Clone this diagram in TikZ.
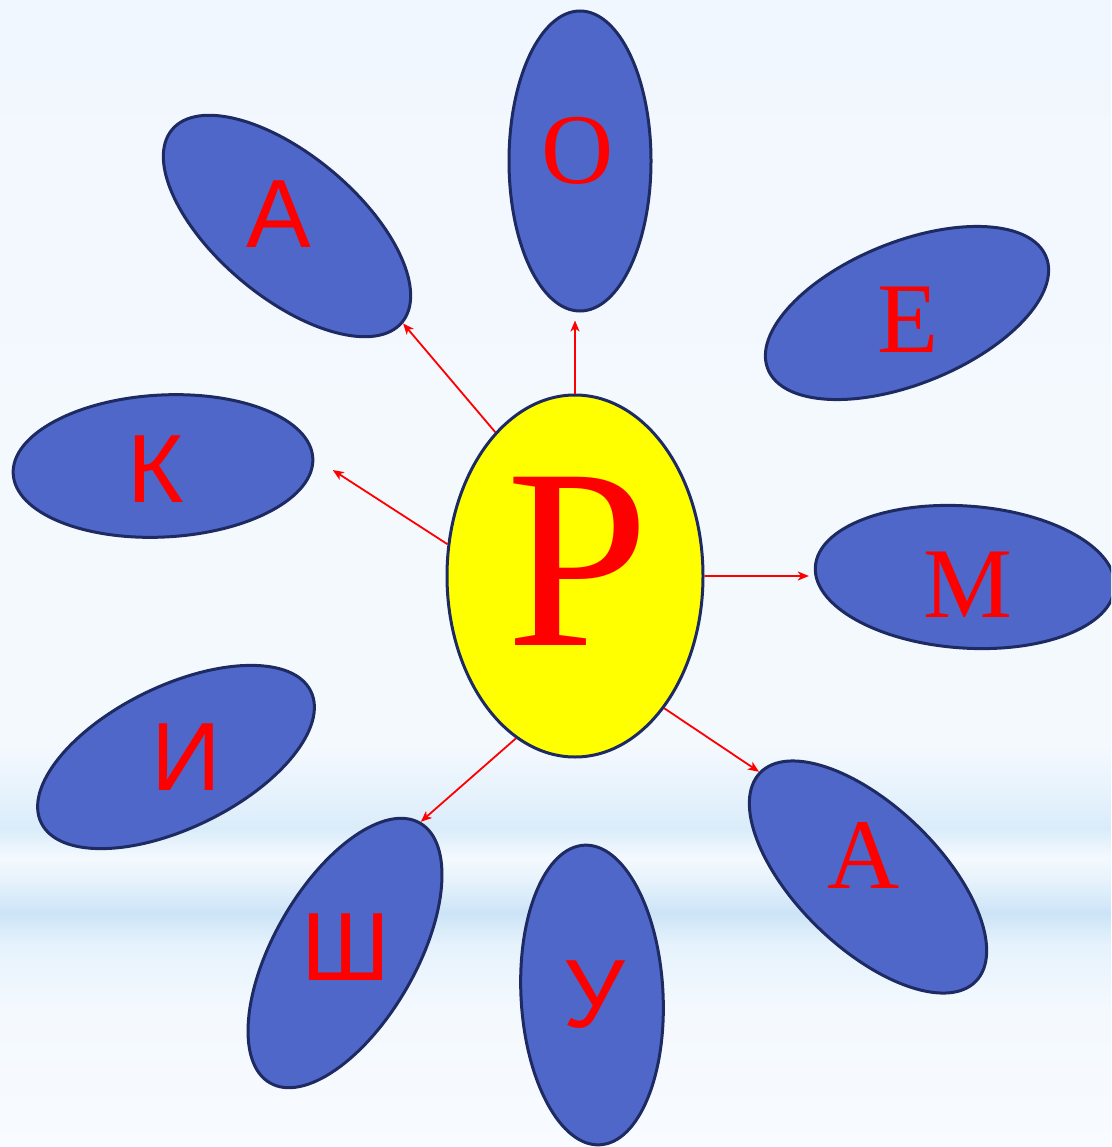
\documentclass[tikz,border=0pt]{standalone}
\usepackage{fontspec}
\setmainfont{Liberation Serif}
\newfontfamily\sansfont{Liberation Sans}
\usepackage{tikz}
\usetikzlibrary{shapes.geometric, arrows.meta, calc}
\definecolor{petal-blue}{RGB}{79,103,200}
\definecolor{petal-edge}{RGB}{30,42,98}
\definecolor{sun-yellow}{RGB}{255,255,0}
\definecolor{bg-low}{HTML}{F8FBFF}
\definecolor{bg-pale}{HTML}{F4F9FE}
\definecolor{bg-mid}{HTML}{E6F2FC}
\definecolor{bg-band}{HTML}{CCE4F7}
\definecolor{bg-band2}{HTML}{DAECFA}
\definecolor{bg-top}{HTML}{F1F7FE}
\pgfdeclareverticalshading{fundo}{100bp}{color(0bp)=(bg-low); color(25bp)=(bg-low);
  color(31bp)=(bg-pale); color(33.8bp)=(bg-mid); color(35.2bp)=(bg-band);
  color(36.6bp)=(bg-mid); color(37.6bp)=(bg-pale); color(38.9bp)=(bg-band2);
  color(40.4bp)=(bg-mid); color(42.5bp)=(bg-pale); color(55bp)=(bg-pale);
  color(75bp)=(bg-top); color(100bp)=(bg-top)}

\begin{document}
\begin{tikzpicture}[x=1pt, y=1pt,
    petal/.style={ellipse, draw=petal-edge, line width=3pt, fill=petal-blue,
      minimum width=300pt, minimum height=142pt, inner sep=0pt},
    serifletter/.style={text=red, anchor=base, inner sep=0pt,
      font=\fontsize{100}{100}\selectfont},
    sansletter/.style={text=red, anchor=base, inner sep=0pt,
      font=\sansfont\fontsize{97}{97}\selectfont},
    seta/.style={draw=red, line width=1.8pt,
      -{Stealth[length=11pt, width=9pt, inset=3pt]}}]
    % Fundo
    \useasboundingbox (0,0) rectangle (1111,-1147);
    \clip (0,0) rectangle (1111,-1147);
    \shade[shading=fundo] (0,0) rectangle (1111,-1147);

    % Centro
    \node[ellipse, draw=petal-edge, line width=3pt, fill=sun-yellow,
      minimum width=256pt, minimum height=362pt, inner sep=0pt] (P) at (575,-576) {};

    % Petalas
    \node[petal, rotate=90]  (O)  at (580,-161) {};
    \node[petal, rotate=-40] (A1) at (287,-226) {};
    \node[petal, rotate=22]  (E)  at (907,-313) {};
    \node[petal, rotate=3]   (K)  at (163,-466) {};
    \node[petal, rotate=-4]  (M)  at (965,-577) {};
    \node[petal, rotate=26]  (I)  at (176,-757) {};
    \node[petal, rotate=60]  (Sh) at (345,-953) {};
    \node[petal, rotate=93]  (U)  at (592,-995) {};
    \node[petal, rotate=-44] (A2) at (868,-877) {};

    % Letras
    \node[serifletter, font=\fontsize{257}{257}\selectfont] (tP) at (578,-645) {Р};
    \node[serifletter] (tO)  at (578,-184) {О};
    \node[sansletter]  (tA1) at (279,-248) {А};
    \node[serifletter] (tE)  at (908,-352) {Е};
    \node[sansletter]  (tK)  at (156,-502) {К};
    \node[serifletter] (tM)  at (968,-617) {М};
    \node[sansletter]  (tI)  at (186,-790) {И};
    \node[sansletter]  (tSh) at (346,-980) {Ш};
    \node[sansletter]  (tU)  at (594,-1027) {У};
    \node[serifletter] (tA2) at (864,-888) {А};

    % Setas
    \draw[seta] (P.119) -- (A1.east);
    \draw[seta, shorten >=8pt] (P.north) -- (P.north |- O.west);
    \draw[seta, shorten >=22pt] (P.166) -- (K.east);
    \draw[seta, shorten >=5pt] (P.east) -- (P.east -| M.west);
    \draw[seta] (P.250) -- (Sh.east);
    \draw[seta] (P.-56) -- (A2.west);
\end{tikzpicture}
\end{document}
